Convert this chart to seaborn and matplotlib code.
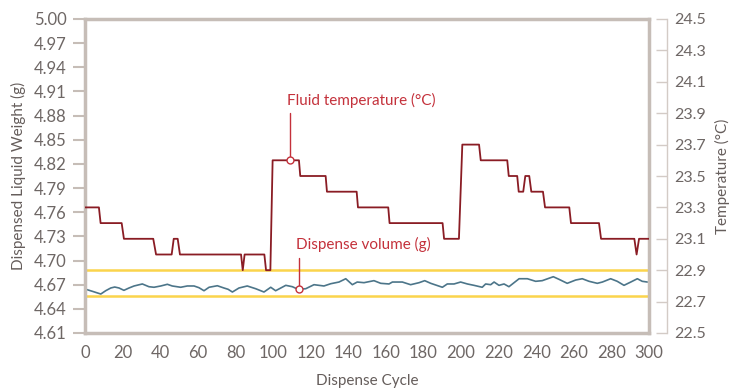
"""Dispensed liquid weight vs dispense cycle, with fluid temperature"""
import numpy as np
import pandas as pd
import matplotlib
matplotlib.use("Agg")
import matplotlib.pyplot as plt
import seaborn as sns

# dispense volume (g)
vol_cycle = [0.4, 3.9, 8.4, 11.0, 13.7, 15.8, 18.1, 20.7, 23.4, 26.1, 30.5, 34.0, 36.7,
             40.3, 43.8, 46.4, 50.9, 54.4, 58.0, 60.6, 63.3, 66.0, 70.4, 73.9, 76.1,
             78.4, 81.9, 86.3, 90.8, 95.2, 98.8, 101.4, 106.8, 110.3, 113.3, 117.4,
             121.8, 127.1, 130.7, 135.1, 138.7, 142.2, 144.8, 148.4, 153.7, 157.3,
             161.7, 163.5, 168.8, 173.2, 177.7, 180.7, 183.9, 190.1, 192.7, 196.3,
             199.8, 203.4, 206.9, 211.3, 213.1, 215.8, 217.6, 220.2, 222.9, 225.5,
             230.9, 235.3, 239.7, 243.2, 249.1, 252.1, 256.5, 261.0, 264.5, 268.1,
             272.5, 275.2, 279.6, 283.1, 286.7, 290.3, 293.8, 296.4, 299.1]
vol_weight = [4.6643, 4.6618, 4.6584, 4.6625, 4.6659, 4.6671, 4.6659, 4.6630, 4.6659,
              4.6684, 4.6709, 4.6675, 4.6668, 4.6684, 4.6705, 4.6684, 4.6668, 4.6684,
              4.6684, 4.6663, 4.6625, 4.6668, 4.6687, 4.6659, 4.6643, 4.6609, 4.6659,
              4.6684, 4.6650, 4.6609, 4.6668, 4.6625, 4.6692, 4.6675, 4.6643, 4.6650,
              4.6700, 4.6684, 4.6712, 4.6733, 4.6774, 4.6700, 4.6733, 4.6725, 4.6750,
              4.6717, 4.6709, 4.6733, 4.6733, 4.6700, 4.6725, 4.6750, 4.6717, 4.6668,
              4.6709, 4.6709, 4.6733, 4.6709, 4.6692, 4.6668, 4.6709, 4.6700, 4.6733,
              4.6692, 4.6709, 4.6675, 4.6774, 4.6774, 4.6742, 4.6750, 4.6799, 4.6767,
              4.6717, 4.6758, 4.6774, 4.6742, 4.6717, 4.6733, 4.6774, 4.6742, 4.6692,
              4.6733, 4.6774, 4.6742, 4.6733]

# fluid temperature (C), step changes
temp_cycle = [0, 7.4, 8.3, 19.5, 20.7, 36.3, 37.8, 46.1, 47.2, 49.3,
              50.5, 83, 83.9, 84.9, 95.4, 96.3, 98.6, 99.8, 113.8, 114.5,
              128, 128.7, 144.5, 145.2, 161.3, 162, 190.2, 191, 198.9, 200.7,
              209.6, 210.5, 224.6, 225.4, 229.9, 230.7, 233.1, 234.2, 236.3, 237.4,
              243.6, 244.7, 257.6, 258.5, 273.4, 274.5, 292.2, 293.4, 294.7, 300]
temp_vals = [23.3, 23.3, 23.2, 23.2, 23.1, 23.1, 23.0, 23.0, 23.1, 23.1,
             23.0, 23.0, 22.9, 23.0, 23.0, 22.9, 22.9, 23.6, 23.6, 23.5,
             23.5, 23.4, 23.4, 23.3, 23.3, 23.2, 23.2, 23.1, 23.1, 23.7,
             23.7, 23.6, 23.6, 23.5, 23.5, 23.4, 23.4, 23.5, 23.5, 23.4,
             23.4, 23.3, 23.3, 23.2, 23.2, 23.1, 23.1, 23.0, 23.1, 23.1]

# tolerance band (g)
limits = [4.656, 4.688]

x_ticks = list(range(0, 301, 20))
weight_ticks = ["4.61", "4.64", "4.67", "4.70", "4.73", "4.76", "4.79",
                "4.82", "4.85", "4.88", "4.91", "4.94", "4.97", "5.00"]
temp_ticks = ["22.5", "22.7", "22.9", "23.1", "23.3", "23.5", "23.7",
              "23.9", "24.1", "24.3", "24.5"]

RED_DARK = "#8a1c24"
RED_TEXT = "#c4313b"
BLUE = "#4c7589"
YELLOW = "#fbd44c"
SPINE = "#c6bdb7"
TICK_TXT = "#6e6765"

sns.set_style("white")
plt.rcParams["font.family"] = ["Lato", "DejaVu Sans"]

fig = plt.figure(figsize=(7.29, 3.91), dpi=100)
ax = fig.add_axes([85 / 729, 1 - 333 / 391, 564 / 729, 314 / 391])
ax2 = ax.twinx()

vol_df = pd.DataFrame({"cycle": vol_cycle, "weight": vol_weight})
temp_df = pd.DataFrame({"cycle": temp_cycle, "temp": temp_vals})

for lim in limits:
    ax.axhline(lim, color=YELLOW, lw=1.8, zorder=1)
sns.lineplot(data=vol_df, x="cycle", y="weight", ax=ax, color=BLUE, lw=1.2,
             estimator=None, zorder=2)
sns.lineplot(data=temp_df, x="cycle", y="temp", ax=ax2, color=RED_DARK, lw=1.3,
             estimator=None, zorder=2)

ax.set_xlim(0, 300)
ax.set_ylim(4.61, 5.00)
ax2.set_ylim(22.5, 24.5)
ax.set_xticks(x_ticks)
ax.set_yticks([float(t) for t in weight_ticks])
ax.set_yticklabels(weight_ticks)
ax2.set_yticks([float(t) for t in temp_ticks])
ax2.set_yticklabels(temp_ticks)

for side in ["left", "right", "top", "bottom"]:
    ax.spines[side].set_visible(True)
    ax.spines[side].set_color(SPINE)
    ax.spines[side].set_linewidth(2.5)
for side in ["left", "top", "bottom"]:
    ax2.spines[side].set_visible(False)
ax2.spines["right"].set_position(("outward", 13))
ax2.spines["right"].set_color("#d3cbc6")
ax2.spines["right"].set_linewidth(1)

ax.tick_params(axis="y", direction="out", length=9, width=1.5, color=SPINE,
               labelsize=12, labelcolor=TICK_TXT, pad=4)
ax.tick_params(axis="x", length=0, labelsize=12, labelcolor=TICK_TXT, pad=9)
ax2.tick_params(axis="y", direction="in", length=8, width=1, color="#d3cbc6",
                labelsize=11.5, labelcolor=TICK_TXT, pad=5)

ax.set_xlabel("Dispense Cycle", fontsize=11, color="#655d5b", labelpad=9)
ax.set_ylabel("Dispensed Liquid Weight (g)", fontsize=11, color="#655d5b", labelpad=6)
ax2.set_ylabel("Temperature (°C)", fontsize=11, color="#655d5b",
               rotation=90, va="center", ha="center", rotation_mode="default")
ax2.yaxis.set_label_coords(1.13, 0.5)

# callouts
ax2.plot([109, 109], [23.6, 23.9], color=RED_TEXT, lw=1)
ax2.plot([109], [23.6], marker="o", ms=5, mfc="white", mec=RED_TEXT, mew=1)
ax2.text(107.5, 23.93, "Fluid temperature (°C)", color=RED_TEXT, fontsize=11,
         ha="left", va="bottom")
ax.plot([113.8, 113.8], [4.6643, 4.703], color=RED_TEXT, lw=1, zorder=3)
ax.plot([113.8], [4.6643], marker="o", ms=5, mfc="white", mec=RED_TEXT, mew=1, zorder=4)
ax.text(112.5, 4.7205, "Dispense volume (g)", color=RED_TEXT, fontsize=11,
        ha="left", va="center")

plt.savefig("out.png", dpi=100)
